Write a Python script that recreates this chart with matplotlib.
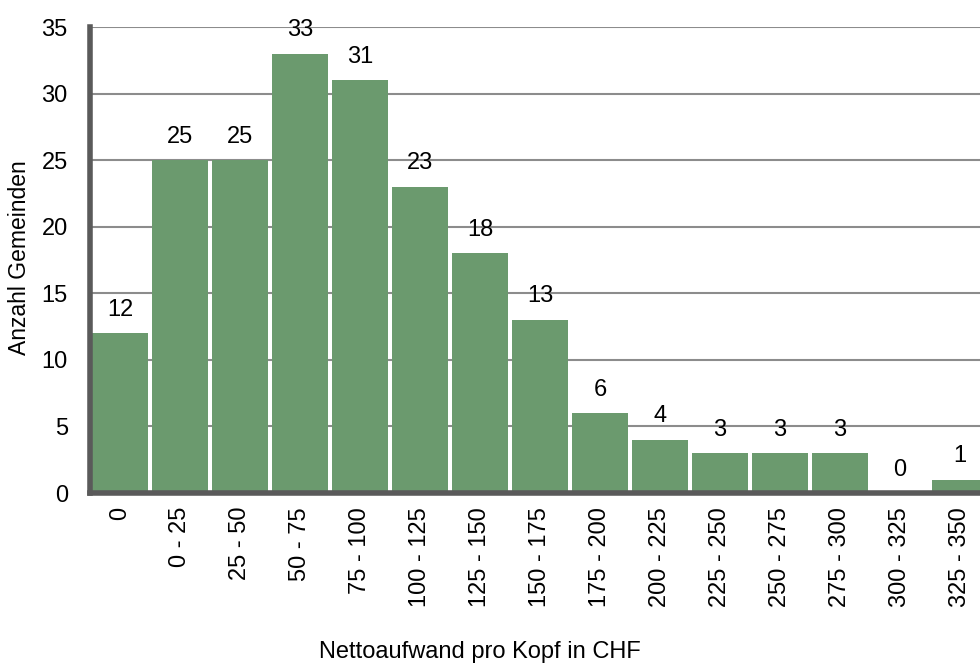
import matplotlib.pyplot as plt
import numpy as np

plt.rcParams['font.family'] = ['Liberation Sans', 'DejaVu Sans']

klassen = ['0', '0 - 25', '25 - 50', '50 - 75', '75 - 100', '100 - 125',
           '125 - 150', '150 - 175', '175 - 200', '200 - 225', '225 - 250',
           '250 - 275', '275 - 300', '300 - 325', '325 - 350']
anzahl = [12, 25, 25, 33, 31, 23, 18, 13, 6, 4, 3, 3, 3, 0, 1]

W, H = 980, 664
fig = plt.figure(figsize=(W / 100, H / 100), dpi=100)
# Achse reicht rechts über den Bildrand hinaus
ax = fig.add_axes([90 / W, 1 - 493 / H, 900 / W, (493 - 27) / H])

x = np.arange(len(klassen))
ax.bar(x, anzahl, width=0.94, color='#6b9a6e', zorder=3)

for xi, v in zip(x, anzahl):
    ax.annotate(str(v), (xi, v), xytext=(0, 9), textcoords='offset points',
                ha='center', va='bottom', fontsize=17)

ax.set_xlim(-0.5, len(klassen) - 0.5)
ax.set_ylim(0, 35)
ax.set_yticks(range(0, 36, 5))
ax.set_xticks(x)
ax.set_xticklabels(klassen, rotation=90, fontsize=17)
ax.tick_params(axis='y', labelsize=17, length=0, pad=16)
ax.tick_params(axis='x', length=0, pad=10)
ax.yaxis.grid(True, color='#8c8c8c', linewidth=1.5, zorder=0)
ax.set_axisbelow(True)

for s in ['top', 'right']:
    ax.spines[s].set_visible(False)
for s in ['left', 'bottom']:
    ax.spines[s].set_color('#5a5a5a')
    ax.spines[s].set_linewidth(4)
    ax.spines[s].set_zorder(4)

fig.text(19 / W, 1 - 258 / H, 'Anzahl Gemeinden', rotation=90, ha='center',
         va='center', fontsize=16.5)
fig.text(480 / W, 1 - 652 / H, 'Nettoaufwand pro Kopf in CHF', ha='center',
         va='center', fontsize=17)

fig.savefig('out.png', dpi=100)
